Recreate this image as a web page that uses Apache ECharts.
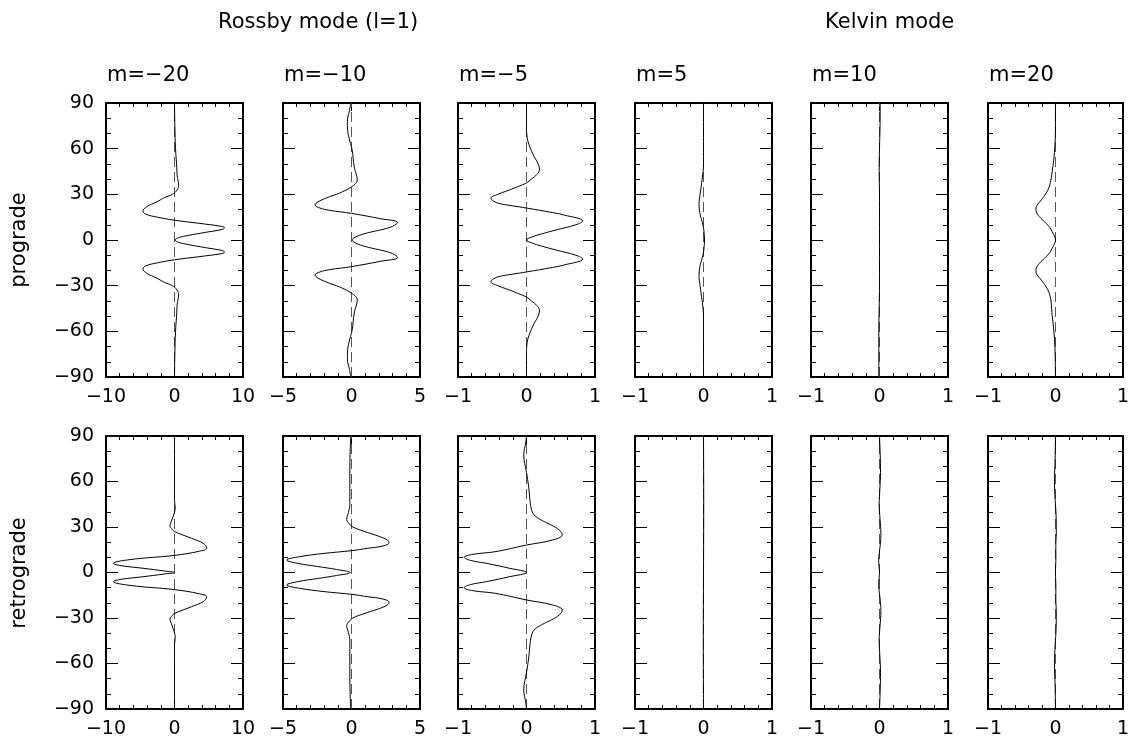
<!DOCTYPE html>
<html>
<head>
<meta charset="utf-8">
<script src="https://cdn.jsdelivr.net/npm/echarts@6/dist/echarts.min.js"></script>
<style>
  html, body { margin: 0; background: #fff; }
  #chart { width: 1132px; height: 744px; }
</style>
</head>
<body>
<div id="chart"></div>
<script>
// latitude (deg) and amplitude, one pair of arrays per panel
// prograde row
const latP1 = [90, 75, 60, 50, 42, 36, 33, 30, 28, 25, 22, 19, 17, 15, 13, 11, 9, 8, 7, 5, 3, 1.5, 0, -1.5, -3, -5, -7, -8, -9, -11, -13, -15, -17, -19, -22, -25, -28, -30, -33, -36, -42, -50, -60, -75, -90]
const valP1 = [0, 0.05, 0.15, 0.3, 0.4, 0.6, 0.4, -0.3, -1.4, -2.6, -4.0, -4.6, -4.2, -2.5, 0, 3.5, 6.8, 7.3, 7.0, 4.5, 2.0, 0.6, 0.1, 0.6, 2.0, 4.5, 7.0, 7.3, 6.8, 3.5, 0, -2.5, -4.2, -4.6, -4.0, -2.6, -1.4, -0.3, 0.4, 0.6, 0.4, 0.3, 0.15, 0.05, 0]

const latP2 = [90, 85, 78, 72, 65, 59, 48, 42, 39.5, 37, 35, 33, 30, 28.5, 25, 23, 21, 19.5, 17.5, 14, 11.5, 9, 7, 5.5, 4, 2.5, 1, 0, -1, -2.5, -4, -5.5, -7, -9, -11.5, -14, -17.5, -19.5, -21, -23, -25, -28.5, -30, -33, -35, -37, -39.5, -42, -48, -59, -65, -72, -78, -85, -90]
const valP2 = [-0.05, -0.15, -0.3, -0.28, -0.12, 0.05, 0.2, 0.38, 0.42, 0.3, 0, -0.35, -1.1, -1.6, -2.45, -2.66, -2.3, -1.6, 0, 2.1, 3.37, 3.0, 2.3, 1.55, 0.9, 0.42, 0.12, 0.05, 0.12, 0.42, 0.9, 1.55, 2.3, 3.0, 3.37, 2.1, 0, -1.6, -2.3, -2.66, -2.45, -1.6, -1.1, -0.35, 0, 0.3, 0.42, 0.38, 0.2, 0.05, -0.12, -0.28, -0.3, -0.15, -0.05]

const latP3 = [90, 75, 69, 65, 61, 55, 50, 46.5, 43, 40, 37.5, 35, 32.5, 30, 27.5, 25.5, 24, 22.5, 21, 18, 16.4, 12.5, 10, 6.6, 4, 2, 0, -2, -4, -6.6, -10, -12.5, -16.4, -18, -21, -22.5, -24, -25.5, -27.5, -30, -32.5, -35, -37.5, -40, -43, -46.5, -50, -55, -61, -65, -69, -75, -90]
const valP3 = [0, 0, 0.005, 0.02, 0.05, 0.11, 0.17, 0.19, 0.15, 0.07, 0, -0.13, -0.27, -0.42, -0.52, -0.48, -0.40, -0.21, 0, 0.38, 0.55, 0.82, 0.72, 0.43, 0.22, 0.08, 0, 0.08, 0.22, 0.43, 0.72, 0.82, 0.55, 0.38, 0, -0.21, -0.40, -0.48, -0.52, -0.42, -0.27, -0.13, 0, 0.07, 0.15, 0.19, 0.17, 0.11, 0.05, 0.02, 0.005, 0, 0]

const latP4 = [90, 60, 50, 40, 30, 24, 18, 12, 8, 4, 0, -4, -8, -12, -18, -24, -30, -40, -50, -60, -90]
const valP4 = [0, 0, 0, -0.02, -0.05, -0.065, -0.055, -0.02, 0, 0.01, 0.015, 0.01, 0, -0.02, -0.055, -0.065, -0.05, -0.02, 0, 0, 0]

const latP5 = [90, 75, 60, 45, 30, 0, -30, -45, -60, -75, -90]
const valP5 = [0.01, 0.008, 0, -0.005, 0, 0, 0, -0.005, -0.01, -0.01, -0.01]

const latP6 = [90, 75, 65, 55, 49, 43, 39, 34, 30.7, 26.3, 23, 20.8, 18, 15.4, 11, 8, 5.5, 2, 0, -2, -5.5, -8, -11, -15.4, -18, -20.8, -23, -26.3, -30.7, -34, -39, -43, -49, -55, -65, -75, -90]
const valP6 = [0, 0, -0.005, -0.02, -0.036, -0.055, -0.07, -0.1, -0.14, -0.21, -0.27, -0.29, -0.28, -0.24, -0.14, -0.08, -0.05, -0.01, 0, -0.01, -0.05, -0.08, -0.14, -0.24, -0.28, -0.29, -0.27, -0.21, -0.14, -0.1, -0.07, -0.06, -0.05, -0.035, -0.015, -0.005, 0]

// retrograde row
const latR1 = [90, 60, 48, 42.5, 39, 34.6, 30.6, 28.5, 27, 22.5, 19.2, 16, 14, 11.3, 8.5, 6, 4.5, 2.8, 1, 0, -1, -2.8, -4.5, -6, -8.5, -11.3, -14, -16, -19.2, -22.5, -27, -28.5, -30.6, -34.6, -39, -42.5, -48, -60, -90]
const valR1 = [0, 0, 0, 0.1, -0.05, -0.39, -0.66, -0.35, 0, 2.5, 4.2, 4.7, 3.6, 0, -6.5, -8.93, -7.8, -4.6, -1.5, 0, -1.5, -4.6, -7.8, -8.93, -6.5, 0, 3.6, 4.7, 4.2, 2.5, 0, -0.35, -0.66, -0.39, -0.05, 0.1, 0, 0, 0]

const latR2 = [90, 80, 65, 52, 45, 39.5, 35, 32, 30, 27.3, 24, 21.5, 19.7, 17.5, 16, 14.4, 12.6, 10.4, 8.2, 6, 4, 2, 0, -2, -4, -6, -8.2, -10.4, -12.6, -14.4, -16, -17.5, -19.7, -21.5, -24, -27.3, -30, -32, -35, -39.5, -45, -52, -65, -80, -90]
const valR2 = [-0.05, -0.1, -0.12, -0.12, -0.12, -0.23, -0.35, -0.15, 0.1, 0.86, 1.96, 2.6, 2.74, 2.3, 1.2, 0, -2.0, -3.8, -4.73, -3.9, -2.5, -1.1, -0.1, -1.1, -2.5, -3.9, -4.73, -3.8, -2.0, 0, 1.2, 2.3, 2.74, 2.6, 1.96, 0.86, 0.1, -0.15, -0.35, -0.23, -0.12, -0.12, -0.12, -0.1, -0.05]

const latR3 = [90, 86, 77.5, 66, 57, 48, 42, 38, 35, 32, 29, 26.5, 24.7, 21.4, 18.1, 13.7, 12, 10, 8, 6, 2.8, 0, -2.8, -6, -8, -10, -12, -13.7, -18.1, -21.4, -24.7, -26.5, -29, -32, -35, -38, -42, -48, -57, -66, -77.5, -86, -90]
const valR3 = [0, -0.01, -0.04, 0, 0.03, 0.05, 0.07, 0.11, 0.2, 0.33, 0.45, 0.51, 0.52, 0.38, 0, -0.46, -0.78, -0.91, -0.82, -0.58, -0.25, 0, -0.25, -0.58, -0.82, -0.91, -0.78, -0.46, 0, 0.38, 0.52, 0.51, 0.45, 0.33, 0.2, 0.11, 0.07, 0.05, 0.03, 0, -0.04, -0.01, 0]

const latR4 = [90, 45, 0, -45, -90]
const valR4 = [0, 0.003, 0, -0.003, 0]

const latR5 = [90, 78, 66, 55, 45, 35, 26, 20, 14, 8, 3, 0, -3, -8, -14, -20, -26, -35, -45, -55, -66, -78, -90]
const valR5 = [0, 0.01, 0.015, 0.005, -0.005, 0.008, 0.02, 0.015, 0, -0.012, -0.005, 0, -0.005, -0.012, 0, 0.015, 0.02, 0.008, -0.005, 0.005, 0.015, 0.01, 0]

const latR6 = [90, 75, 60, 48, 36, 26, 18, 10, 0, -10, -18, -26, -36, -48, -60, -75, -90]
const valR6 = [0, -0.005, -0.015, -0.005, 0.01, 0.012, 0.005, 0.006, 0, 0.006, 0.005, 0.012, 0.01, -0.005, -0.015, -0.005, 0]

const xRanges = [10, 5, 1, 1, 1, 1]
const colTitles = ['m=−20', 'm=−10', 'm=−5', 'm=5', 'm=10', 'm=20']
const yTicks = { min: -90, max: 90, step: 30 }

const panels = [
  [latP1, valP1], [latP2, valP2], [latP3, valP3], [latP4, valP4], [latP5, valP5], [latP6, valP6],
  [latR1, valR1], [latR2, valR2], [latR3, valR3], [latR4, valR4], [latR5, valR5], [latR6, valR6]
]

const FONT = 'DejaVu Sans'
const lefts = [106, 283, 458, 635, 811, 988]
const tops = [103, 436]
const heights = [274, 273]
const W = 137

const minus = (v) => (v < 0 ? '−' + Math.abs(v) : String(v))

const lineStyle = { color: '#000', width: 2 }
const tickStyle = { color: '#000', width: 1 }

const grid = []
const xAxis = []
const yAxis = []
const series = []

panels.forEach(([lat, val], i) => {
  const row = i < 6 ? 0 : 1
  const col = i % 6
  const r = xRanges[col]
  grid.push({ left: lefts[col], top: tops[row], width: W, height: heights[row] })
  // 下边和上边
  ;['bottom', 'top'].forEach((pos) => {
    xAxis.push({
      type: 'value', gridIndex: i, position: pos,
      min: -r, max: r, interval: r,
      axisLine: { onZero: false, lineStyle },
      axisTick: { inside: true, length: 8, lineStyle: tickStyle },
      minorTick: { show: true, splitNumber: 5, length: 4, lineStyle: tickStyle },
      splitLine: { show: false },
      axisLabel: {
        show: pos === 'bottom', margin: 11, formatter: minus,
        fontFamily: FONT, fontSize: 19, color: '#000'
      }
    })
  })
  // 左边和右边
  ;['left', 'right'].forEach((pos) => {
    yAxis.push({
      type: 'value', gridIndex: i, position: pos,
      min: yTicks.min, max: yTicks.max, interval: yTicks.step,
      axisLine: { onZero: false, lineStyle },
      axisTick: { inside: true, length: 12, lineStyle: tickStyle },
      minorTick: { show: true, splitNumber: 3, length: 5, lineStyle: tickStyle },
      splitLine: { show: false },
      axisLabel: {
        show: pos === 'left' && col === 0, margin: 12, formatter: minus,
        fontFamily: FONT, fontSize: 19, color: '#000'
      }
    })
  })
  // x=0 的虚线
  series.push({
    type: 'line', xAxisIndex: i * 2, yAxisIndex: i * 2,
    data: [[0, yTicks.min], [0, yTicks.max]],
    showSymbol: false, silent: true, z: 1,
    lineStyle: { color: '#555', width: 1, type: [10, 5] }
  })
  series.push({
    type: 'line', xAxisIndex: i * 2, yAxisIndex: i * 2,
    data: lat.map((y, k) => [val[k], y]),
    showSymbol: false, smooth: 0.4, z: 2,
    lineStyle: { color: '#000', width: 1 }
  })
})

const txt = (text, x, y, size, rotation) => ({
  type: 'text', x, y, rotation: rotation || 0,
  style: {
    text, fontFamily: FONT, fontSize: size, fill: '#000',
    align: rotation ? 'center' : 'left', verticalAlign: 'middle'
  }
})

const graphic = [
  txt('Rossby mode (l=1)', 218, 23, 21),
  txt('Kelvin mode', 825, 23, 21),
  txt('prograde', 20, 240, 21, Math.PI / 2),
  txt('retrograde', 20, 573, 21, Math.PI / 2)
]
colTitles.forEach((t, c) => graphic.push(txt(t, lefts[c] + 1, 76, 21)))

const myChart = echarts.init(document.getElementById('chart'))
myChart.setOption({
  animation: false,
  backgroundColor: '#fff',
  grid, xAxis, yAxis, series, graphic
})
</script>
</body>
</html>
